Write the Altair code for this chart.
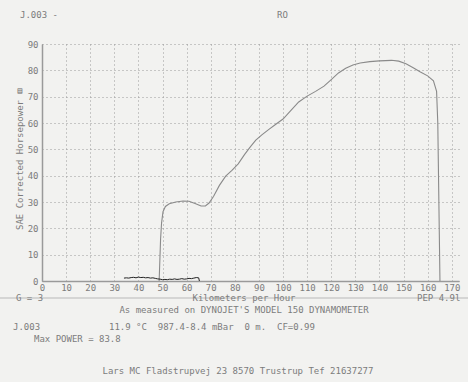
import altair as alt
import pandas as pd

# ---- data read from the dyno sheet ----
speed_kmh = [48.6, 48.9, 49.2, 49.6, 50.2, 51.2, 52.8, 55.5, 58.5, 61.0, 63.5, 66.0, 67.8,
             69.3, 71.2, 73.6, 76.2, 78.8, 81.4, 84.0, 86.5, 88.7, 91.2, 94.0, 97.0, 100.0,
             103.0, 106.5, 110.0, 113.5, 117.0, 120.0, 123.0, 126.0, 129.0, 132.0, 136.0,
             140.0, 145.0, 148.0, 151.0, 154.0, 157.0, 160.0, 162.4, 163.7, 164.2, 164.5,
             164.8, 165.1]
power_hp = [0.0, 8.0, 16.0, 22.0, 26.3, 28.3, 29.3, 30.0, 30.4, 30.3, 29.4, 28.5, 28.5,
            29.6, 32.2, 36.3, 39.8, 42.0, 44.5, 48.0, 51.0, 53.5, 55.5, 57.5, 59.5, 61.5,
            64.5, 68.0, 70.2, 72.0, 74.0, 76.5, 79.0, 80.8, 82.0, 82.8, 83.3, 83.6, 83.8,
            83.5, 82.5, 81.0, 79.4, 77.9, 76.0, 72.0, 60.0, 40.0, 20.0, 0.0]

trace_kmh = [34, 35, 36, 37, 38, 39, 40, 41, 42, 43, 44, 45, 46, 47, 48, 49, 50, 51, 52,
             53, 54, 55, 56, 57, 58, 59, 60, 61, 62, 63, 64, 65, 65.3]
trace_val = [1.1, 1.2, 1.1, 1.3, 1.4, 1.2, 1.5, 1.3, 1.4, 1.2, 1.3, 1.1, 1.2, 1.0, 0.8,
             0.7, 0.5, 0.6, 0.5, 0.7, 0.6, 0.8, 0.6, 0.7, 0.9, 0.7, 0.8, 1.0, 0.9, 1.1,
             1.3, 1.2, 0.0]

x_ticks = list(range(0, 171, 10))
y_ticks = list(range(0, 91, 10))

# ---- layout ----
L, T = 42, 44
W, H = 417, 237
FONT = "DejaVu Sans Mono"
INK = "#7c7c7c"
NB = "\u00a0"

x_scale = alt.Scale(domain=[0, 173], nice=False, zero=False)
y_scale = alt.Scale(domain=[0, 90], nice=False)

power_df = pd.DataFrame({"kmh": speed_kmh, "hp": power_hp, "i": range(len(speed_kmh))})
trace_df = pd.DataFrame({"kmh": trace_kmh, "v": trace_val, "i": range(len(trace_kmh))})

x_axis = alt.Axis(values=x_ticks, title=None, grid=True, ticks=False, labelPadding=2,
                  labelOverlap=False, tickCount=18,
                  labelFont=FONT, labelFontSize=9, labelColor=INK, labelFlush=False,
                  domainColor="#9a9a9a", domainWidth=1.5,
                  gridColor="#9a9a9a", gridDash=[1, 3], gridWidth=1)
y_axis = alt.Axis(values=y_ticks, title=None, grid=True, ticks=False, labelPadding=4,
                  labelOverlap=False, tickCount=10,
                  labelFont=FONT, labelFontSize=9, labelColor=INK, labelFlush=False,
                  domainColor="#9a9a9a", domainWidth=1.5,
                  gridColor="#9a9a9a", gridDash=[1, 3], gridWidth=1)

power_line = alt.Chart(power_df).mark_line(color="#8a8a8a", strokeWidth=1.1).encode(
    x=alt.X("kmh:Q", scale=x_scale, axis=x_axis),
    y=alt.Y("hp:Q", scale=y_scale, axis=y_axis),
    order="i:Q",
)

trace_line = alt.Chart(trace_df).mark_line(color="#222222", strokeWidth=1).encode(
    x=alt.X("kmh:Q", scale=x_scale),
    y=alt.Y("v:Q", scale=y_scale),
    order="i:Q",
)


def txt(s, x, y, align="left", size=9, angle=0, color=INK):
    s = s.replace(" ", NB)
    return alt.Chart(pd.DataFrame({"t": [s]})).mark_text(
        align=align, baseline="middle", font=FONT, fontSize=size, color=color, angle=angle
    ).encode(text="t:N", x=alt.value(x - L), y=alt.value(y - T))


strike = alt.Chart(pd.DataFrame({"a": [0]})).mark_rule(color="#b8b8b8", strokeWidth=1.2).encode(
    x=alt.value(0 - L), x2=alt.value(468 - L), y=alt.value(298 - T)
)

texts = [
    txt("J.003 -", 20, 15),
    txt("RO", 277, 15),
    txt("SAE Corrected Horsepower", 20, 165, align="center", angle=270),
    txt("\u25a4", 20, 91, align="center", size=8, color="#666666"),
    txt("G = 3", 16, 298),
    txt("Kilometers per Hour", 244, 298, align="center"),
    txt("PEP 4.9l", 417, 298),
    txt("As measured on DYNOJET'S MODEL 150 DYNAMOMETER", 244, 310, align="center"),
    txt("J.003", 13, 327),
    txt("11.9 \u00b0C  987.4-8.4 mBar  0 m.  CF=0.99", 109, 327),
    txt("Max POWER = 83.8", 34, 339),
    txt("Lars MC Fladstrupvej 23 8570 Trustrup Tef 21637277", 238, 371, align="center"),
]

chart = alt.layer(strike, power_line, trace_line, *texts).properties(
    width=W, height=H,
    autosize=alt.AutoSizeParams(type="none"),
    padding={"left": L, "top": T, "right": 468 - L - W, "bottom": 382 - T - H},
    background="#f2f2f0",
).configure_view(stroke=None)

chart.save("out.html", embed_options={"renderer": "svg", "actions": False})
